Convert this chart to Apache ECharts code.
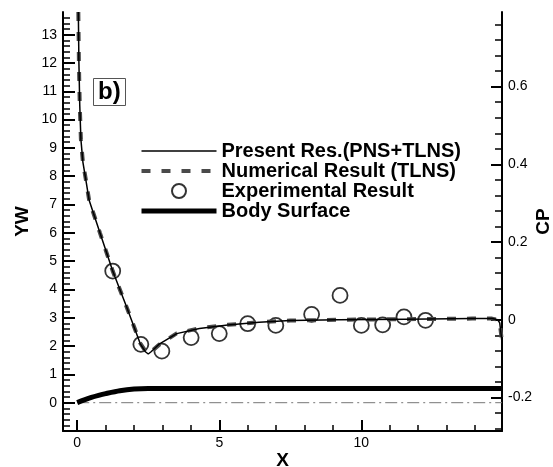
<!DOCTYPE html>
<html>
<head>
<meta charset="utf-8">
<script src="https://cdn.jsdelivr.net/npm/echarts@6/dist/echarts.min.js"></script>
<style>
  html, body { margin: 0; padding: 0; background: #fff; }
  #chart-container { width: 553px; height: 467px; }
</style>
</head>
<body>
<div id="chart-container"></div>
<script>
// Present Res.(PNS+TLNS), in YW units
const presentX = [0.04, 0.06, 0.09, 0.13, 0.2, 0.3, 0.42, 0.8, 1.25, 1.75, 2.22, 2.4, 2.5, 2.6, 2.9, 3.5, 4.3, 5.3, 6.4, 7.5, 9.2, 11.6, 13.9, 14.6, 14.8, 14.87, 14.92, 14.95];
const presentY = [13.8, 12.0, 10.5, 9.3, 8.5, 7.9, 7.15, 6.0, 4.65, 3.35, 2.08, 1.8, 1.72, 1.8, 2.08, 2.44, 2.62, 2.74, 2.84, 2.9, 2.93, 2.95, 2.97, 2.97, 2.93, 2.82, 2.4, 2.1];

// Numerical Result (TLNS)
const numericalX = [0.04, 0.06, 0.09, 0.13, 0.2, 0.3, 0.42, 0.8, 1.25, 1.75, 2.22, 2.4, 2.5, 2.6, 2.9, 3.5, 4.3, 5.3, 6.4, 7.5, 9.2, 11.6, 13.9, 14.6, 14.8, 14.87, 14.92, 14.95];
const numericalY = [13.8, 12.0, 10.5, 9.3, 8.5, 7.9, 7.15, 6.0, 4.65, 3.35, 2.1, 1.82, 1.74, 1.8, 2.06, 2.45, 2.63, 2.75, 2.84, 2.9, 2.93, 2.95, 2.97, 2.97, 2.93, 2.82, 2.4, 2.1];

// Experimental Result
const expX = [1.25, 2.24, 2.98, 4.01, 5.0, 6.0, 6.99, 8.25, 9.25, 10.0, 10.75, 11.5, 12.26];
const expY = [4.65, 2.06, 1.82, 2.30, 2.44, 2.79, 2.73, 3.12, 3.79, 2.73, 2.75, 3.03, 2.91];

// Body Surface
const bodyX = [0, 0.25, 0.5, 0.75, 1.0, 1.5, 2.0, 2.5, 14.95];
const bodyY = [0, 0.1, 0.19, 0.26, 0.32, 0.42, 0.48, 0.5, 0.5];

// dash-dot reference line at YW = 0
const refX = [0, 14.95];
const refY = [0, 0];

// axis ticks
const xMajor = [0, 5, 10];
const xMinor = [1, 2, 3, 4, 6, 7, 8, 9, 11, 12, 13, 14];
const ywMajor = [0, 1, 2, 3, 4, 5, 6, 7, 8, 9, 10, 11, 12, 13];
const cpMajor = [-0.2, 0, 0.2, 0.4, 0.6];

const ywMin = -1, ywMax = 13.8;
const cpMin = -0.286, cpMax = 0.792;
const xMin = -0.5, xMax = 14.95;

function steps(from, to, step) {
  const out = [];
  const n = Math.round((to - from) / step);
  for (let i = 0; i <= n; i++) out.push(+(from + i * step).toFixed(4));
  return out;
}
const ywMinor = steps(-0.8, 13.6, 0.2);
const cpMinor = steps(-0.28, 0.76, 0.04);

function pairs(xs, ys) { return xs.map((x, i) => [x, ys[i]]); }

const font = 'Liberation Sans, Arial, sans-serif';
const chart = echarts.init(document.getElementById('chart-container'), null, { renderer: 'canvas' });

function majorAxis(extra) {
  return Object.assign({
    type: 'value',
    splitLine: { show: false },
    nameMoveOverlap: false,
    axisLine: { show: true, onZero: false, lineStyle: { color: '#000', width: 2 } },
    nameTextStyle: { color: '#000', fontSize: 19, fontWeight: 'bold', fontFamily: font }
  }, extra);
}
function minorAxis(extra) {
  return Object.assign({
    type: 'value',
    splitLine: { show: false },
    axisLine: { show: false, onZero: false },
    axisLabel: { show: false }
  }, extra);
}
function ticks(values, length, width) {
  return { show: true, inside: true, length: length, customValues: values, lineStyle: { color: '#000', width: width } };
}
function labels(values, margin) {
  return { color: '#000', fontSize: 14, fontFamily: font, margin: margin, customValues: values };
}

const option = {
  backgroundColor: '#fff',
  animation: false,
  title: {
    text: 'b)',
    left: 93, top: 78,
    padding: [2, 5, 2, 5],
    borderColor: '#555', borderWidth: 1,
    textStyle: { fontSize: 24, fontWeight: 'bold', color: '#000', fontFamily: font }
  },
  legend: {
    orient: 'vertical',
    left: 134, top: 136,
    itemWidth: 75, itemHeight: 14, itemGap: 0,
    data: [
      { name: 'Present Res.(PNS+TLNS)', itemStyle: { opacity: 0 }, lineStyle: { width: 1.5 } },
      { name: 'Numerical Result (TLNS)', itemStyle: { opacity: 0 }, lineStyle: { width: 4 } },
      { name: 'Experimental Result' },
      { name: 'Body Surface', itemStyle: { opacity: 0 }, lineStyle: { width: 5 } }
    ],
    textStyle: { fontSize: 20, lineHeight: 18.5, fontWeight: 'bold', color: '#000', fontFamily: font }
  },
  grid: { left: 63, right: 51, top: 12, bottom: 36, outerBoundsMode: 'none', containLabel: false },
  xAxis: [
    majorAxis({
      min: xMin, max: xMax, position: 'bottom',
      name: 'X', nameLocation: 'middle', nameGap: 20,
      axisTick: ticks(xMajor, 11, 2),
      axisLabel: labels(xMajor, 5)
    }),
    minorAxis({
      min: xMin, max: xMax, position: 'bottom',
      axisTick: ticks(xMinor, 6, 1.5)
    })
  ],
  yAxis: [
    majorAxis({
      min: ywMin, max: ywMax, position: 'left',
      name: 'YW', nameLocation: 'middle', nameGap: 31, nameRotate: 90,
      axisTick: ticks(ywMajor, 12, 2),
      axisLabel: labels(ywMajor, 6)
    }),
    minorAxis({
      min: ywMin, max: ywMax, position: 'left',
      axisTick: ticks(ywMinor, 7, 1.5)
    }),
    majorAxis({
      min: cpMin, max: cpMax, position: 'right',
      name: 'CP', nameLocation: 'middle', nameGap: 32, nameRotate: 90,
      axisTick: ticks(cpMajor, 11, 2),
      axisLabel: labels(cpMajor, 6)
    }),
    minorAxis({
      min: cpMin, max: cpMax, position: 'right',
      axisTick: ticks(cpMinor, 7, 1.5)
    })
  ],
  series: [
    {
      name: 'ref', type: 'line', xAxisIndex: 0, yAxisIndex: 0,
      data: pairs(refX, refY), symbol: 'none', silent: true,
      lineStyle: { color: '#777', width: 1, type: [12, 4, 2, 4] }
    },
    {
      name: 'Body Surface', type: 'line', xAxisIndex: 0, yAxisIndex: 0,
      data: pairs(bodyX, bodyY), symbol: 'none', smooth: 0.3,
      itemStyle: { color: '#000', opacity: 0 },
      lineStyle: { color: '#000', width: 5 }
    },
    {
      name: 'Numerical Result (TLNS)', type: 'line', xAxisIndex: 0, yAxisIndex: 0,
      data: pairs(numericalX, numericalY), symbol: 'none',
      itemStyle: { color: '#4a4a4a', opacity: 0 },
      lineStyle: { color: '#4a4a4a', width: 4, type: [9, 11] }
    },
    {
      name: 'Present Res.(PNS+TLNS)', type: 'line', xAxisIndex: 0, yAxisIndex: 0,
      data: pairs(presentX, presentY), symbol: 'none',
      itemStyle: { color: '#000', opacity: 0 },
      lineStyle: { color: '#000', width: 1.5 }
    },
    {
      name: 'Experimental Result', type: 'scatter', xAxisIndex: 0, yAxisIndex: 0,
      data: pairs(expX, expY), symbol: 'circle', symbolSize: 15,
      itemStyle: { color: 'rgba(255,255,255,0)', borderColor: '#000', borderWidth: 1.8 }
    }
  ]
};

chart.setOption(option);
</script>
</body>
</html>
